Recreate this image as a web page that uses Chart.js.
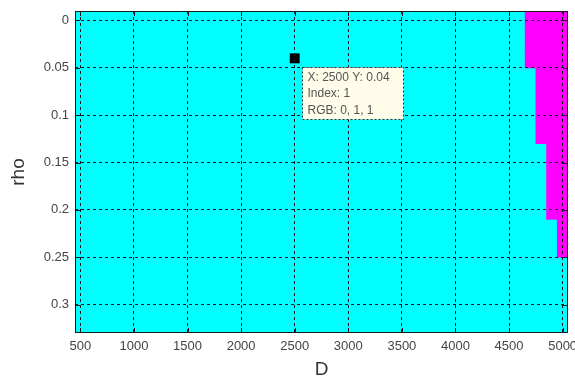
<!DOCTYPE html>
<html>
<head>
<meta charset="utf-8">
<title>rho vs D</title>
<script src="https://cdn.jsdelivr.net/npm/chart.js@4.4.1/dist/chart.umd.min.js"></script>
<style>
  html, body { margin: 0; padding: 0; background: #fff; }
  #chart { display: block; }
</style>
</head>
<body>
<canvas id="chart" width="575" height="379"></canvas>
<script>
// image grid: one column per D value, one row per rho value
const dValues = [500, 600, 700, 800, 900, 1000, 1100, 1200, 1300, 1400, 1500, 1600,
  1700, 1800, 1900, 2000, 2100, 2200, 2300, 2400, 2500, 2600, 2700, 2800, 2900, 3000,
  3100, 3200, 3300, 3400, 3500, 3600, 3700, 3800, 3900, 4000, 4100, 4200, 4300, 4400,
  4500, 4600, 4700, 4800, 4900, 5000];
const rhoValues = [0, 0.02, 0.04, 0.06, 0.08, 0.1, 0.12, 0.14, 0.16, 0.18, 0.2,
  0.22, 0.24, 0.26, 0.28, 0.3, 0.32];
// first D column that is magenta in each rho row (null = whole row cyan)
const magentaFrom = [4700, 4700, 4700, 4800, 4800, 4800, 4800, 4900, 4900, 4900, 4900,
  5000, 5000, null, null, null, null];

const dTicks = [500, 1000, 1500, 2000, 2500, 3000, 3500, 4000, 4500, 5000];
const rhoTicks = [0, 0.05, 0.1, 0.15, 0.2, 0.25, 0.3];

// data tip
const tipPoint = { x: 2500, y: 0.04 };
const tipLines = ["X: 2500 Y: 0.04", "Index: 1", "RGB: 0, 1, 1"];

const CYAN = "#00ffff";
const MAGENTA = "#ff00ff";
const FONT = "'Liberation Sans', Arial, sans-serif";

const halfD = (dValues[1] - dValues[0]) / 2;
const halfRho = (rhoValues[1] - rhoValues[0]) / 2;
const dMin = dValues[0] - halfD;
const dMax = dValues[dValues.length - 1] + halfD;
const rhoMin = rhoValues[0] - halfRho;
const rhoMax = rhoValues[rhoValues.length - 1] + halfRho;

const cyanCells = rhoValues.map((r, i) => ({
  y: r,
  x: [dMin, magentaFrom[i] === null ? dMax : magentaFrom[i] - halfD],
}));
const magentaCells = rhoValues
  .map((r, i) => ({ r, from: magentaFrom[i] }))
  .filter((c) => c.from !== null)
  .map((c) => ({ y: c.r, x: [c.from - halfD, dMax] }));

const framePlugin = {
  id: "frame",
  beforeDatasetsDraw(chart) {
    const { ctx, chartArea: a } = chart;
    ctx.save();
    ctx.fillStyle = CYAN;
    ctx.fillRect(a.left, a.top, a.right - a.left, a.bottom - a.top);
    ctx.restore();
  },
  afterDraw(chart) {
    const { ctx, chartArea: a, scales } = chart;
    ctx.save();
    // axes box
    ctx.strokeStyle = "#1a1a1a";
    ctx.lineWidth = 1;
    ctx.strokeRect(a.left + 0.5, a.top + 0.5, a.right - a.left - 1, a.bottom - a.top - 1);
    // inward tick marks
    ctx.beginPath();
    dTicks.forEach((v) => {
      const px = Math.round(scales.x.getPixelForValue(v)) + 0.5;
      ctx.moveTo(px, a.bottom); ctx.lineTo(px, a.bottom - 5);
      ctx.moveTo(px, a.top); ctx.lineTo(px, a.top + 5);
    });
    rhoTicks.forEach((v) => {
      const py = Math.round(scales.y.getPixelForValue(v)) + 0.5;
      ctx.moveTo(a.left, py); ctx.lineTo(a.left + 5, py);
      ctx.moveTo(a.right, py); ctx.lineTo(a.right - 5, py);
    });
    ctx.stroke();

    // data tip box
    const px = scales.x.getPixelForValue(tipPoint.x);
    const py = scales.y.getPixelForValue(tipPoint.y);
    const bx = Math.round(px + 7) + 0.5;
    const by = Math.round(py + 9) + 0.5;
    const bw = 101, bh = 52;
    ctx.fillStyle = "#fffce9";
    ctx.fillRect(bx, by, bw, bh);
    ctx.setLineDash([2, 2]);
    ctx.strokeStyle = "#333";
    ctx.strokeRect(bx, by, bw, bh);
    ctx.setLineDash([]);
    ctx.fillStyle = "#555";
    ctx.font = "12px " + FONT;
    ctx.textBaseline = "middle";
    tipLines.forEach((t, i) => {
      ctx.fillText(t, bx + 5, by + 10 + i * 16.5);
    });
    ctx.restore();
  },
};

new Chart(document.getElementById("chart"), {
  type: "bar",
  data: {
    datasets: [
      {
        type: "scatter",
        indexAxis: "x",
        data: [tipPoint],
        pointStyle: "rect",
        pointRadius: 7,
        backgroundColor: "#000",
        borderWidth: 0,
      },
      { label: "magenta", data: magentaCells, backgroundColor: MAGENTA },
      { label: "cyan", data: cyanCells, backgroundColor: CYAN },
    ],
  },
  options: {
    indexAxis: "y",
    responsive: false,
    animation: false,
    devicePixelRatio: 1,
    layout: { padding: { left: 0, right: 5, top: 11, bottom: 0 } },
    datasets: {
      bar: { grouped: false, barPercentage: 1, categoryPercentage: 1, borderWidth: 0 },
    },
    plugins: { legend: { display: false }, tooltip: { enabled: false } },
    scales: {
      x: {
        type: "linear",
        position: "bottom",
        min: dMin,
        max: dMax,
        offset: false,
        grid: { color: "#1a1a1a", lineWidth: 1, drawTicks: false, offset: false, z: 1 },
        border: { display: false, dash: [3, 3] },
        ticks: {
          padding: 6,
          color: "#444",
          font: { family: FONT, size: 13 },
          maxRotation: 0,
          autoSkip: false,
          callback: (v) => String(v),
        },
        title: {
          display: true,
          text: "D",
          color: "#333",
          font: { family: FONT, size: 19, lineHeight: 1 },
          padding: 0,
        },
        afterBuildTicks: (s) => { s.ticks = dTicks.map((v) => ({ value: v })); },
        afterFit: (s) => { s.height = 46; s.paddingLeft = 0; s.paddingRight = 0; },
      },
      y: {
        type: "linear",
        reverse: true,
        min: rhoMin,
        max: rhoMax,
        offset: false,
        grid: { color: "#1a1a1a", lineWidth: 1, drawTicks: false, offset: false, z: 1 },
        border: { display: false, dash: [3, 3] },
        ticks: {
          padding: 6,
          color: "#444",
          font: { family: FONT, size: 13 },
          autoSkip: false,
          callback: (v) => String(v),
        },
        title: {
          display: true,
          text: "rho",
          color: "#333",
          font: { family: FONT, size: 19, lineHeight: 1 },
          padding: { top: 9, bottom: 0 },
        },
        afterBuildTicks: (s) => { s.ticks = rhoTicks.map((v) => ({ value: v })); },
        afterFit: (s) => { s.width = 75; s.paddingTop = 0; s.paddingBottom = 0; },
      },
    },
  },
  plugins: [framePlugin],
});
</script>
</body>
</html>
